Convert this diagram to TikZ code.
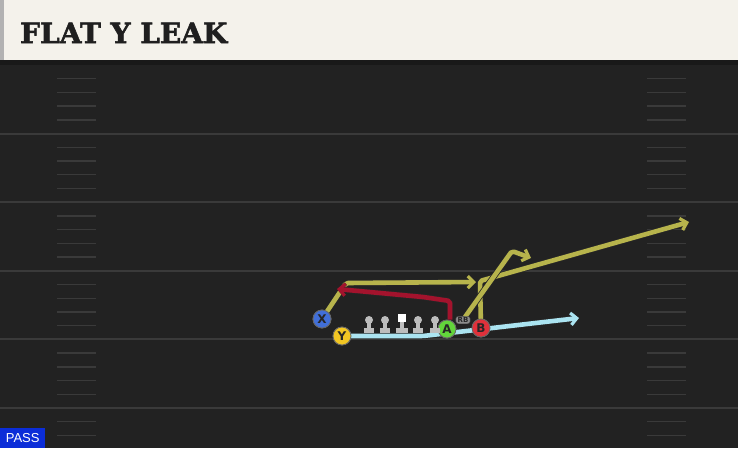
\documentclass[tikz,border=0pt]{standalone}
\usepackage{fontspec}
\setmainfont{DejaVu Sans}
\newfontfamily\titlefont[BoldFeatures={FakeBold=2}]{DejaVu Serif}
\newfontfamily\passfont{Liberation Sans}
\usetikzlibrary{arrows.meta}

\definecolor{field}{HTML}{222222}
\definecolor{header}{HTML}{F4F2EB}
\definecolor{yardline}{HTML}{3A3A3A}
\definecolor{olive}{HTML}{B7B44C}
\definecolor{crimson}{HTML}{A3132D}
\definecolor{skyblue}{HTML}{ABE4F1}
\definecolor{xblue}{HTML}{416FD8}
\definecolor{yyellow}{HTML}{F2C623}
\definecolor{agreen}{HTML}{62D53B}
\definecolor{bred}{HTML}{E0313B}
\definecolor{lineman}{HTML}{BDBDBD}
\definecolor{passblue}{HTML}{0B2DD8}

\tikzset{
  route/.style={line width=4.6pt, line join=round, rounded corners=2pt,
    preaction={draw=black!85, line width=6.2pt}},
  tip/.style={-{Straight Barb[length=6pt, width=12pt, line width=3.2pt]}},
  player/.style={circle, draw=black!60, line width=0.8pt, minimum size=18pt,
    inner sep=0pt, font=\bfseries\fontsize{12}{12}\selectfont, text=black!85},
}

\begin{document}
\begin{tikzpicture}[x=1pt, y=-1pt]
        % Canvas
        \useasboundingbox (0,0) rectangle (738,448);
        \clip (0,0) rectangle (738,448);
        \fill[field] (0,0) rectangle (738,448);

        % Draw yard lines and hash marks
        \foreach \b in {1,...,5}
          \draw[yardline, line width=2pt] (0,65+68.6*\b) -- (738,65+68.6*\b);
        \foreach \b in {0,...,5}
          \foreach \j in {1,...,4} {
            \pgfmathsetmacro{\hy}{65+13.72*5*\b+13.72*\j}
            \ifdim\hy pt<445pt
              \draw[yardline, line width=1.4pt] (57,\hy) -- (96,\hy);
              \draw[yardline, line width=1.4pt] (647,\hy) -- (686,\hy);
            \fi
          }

        % Draw header band
        \fill[black!90] (0,60) rectangle (738,65);
        \fill[header] (0,0) rectangle (738,60);
        \fill[black!30] (0,0) rectangle (4,60);
        \node[anchor=base west, font=\titlefont\bfseries\fontsize{28}{28}\selectfont, text=black!88, inner sep=0pt]
          (title) at (20,43) {FLAT Y LEAK};

        % Place players
        \node[player, fill=xblue] (X) at (322,319) {X};
        \node[player, fill=yyellow] (Y) at (342,336) {Y};
        \node[player, fill=agreen] (A) at (447,329) {A};
        \node[player, fill=bred] (B) at (481,328) {B};

        % Route turning points
        \coordinate (xcut) at (346,283);
        \coordinate (xend) at (476,282);
        \coordinate (aup) at (450,301);
        \coordinate (abend) at (423,297);
        \coordinate (aend) at (337,289);
        \coordinate (rbstart) at (465,317);
        \coordinate (rbcut) at (512,251);
        \coordinate (rbend) at (531,258);
        \coordinate (bup) at (480,281);
        \coordinate (bend) at (689,222);
        \coordinate (yflat) at (423,336);
        \coordinate (yend) at (579,318);

        % Draw routes
        \draw[route, skyblue, tip] (Y.center) -- (yflat) -- (yend);
        \draw[route, olive, tip] (X.center) -- (xcut) -- (xend);
        \draw[route, crimson, tip] (A.north) ++(3,0) -- (aup) -- (abend) -- (aend);
        \draw[route, olive, tip] (B.center) -- (bup) -- (bend);
        \draw[route, olive, tip] (rbstart) -- (rbcut) -- (rbend);

        % Redraw players on top
        \node[player, fill=xblue] at (X) {X};
        \node[player, fill=yyellow] at (Y) {Y};
        \node[player, fill=agreen] at (A) {A};
        \node[player, fill=bred] at (B) {B};

        % RB tag
        \node[fill=black!45, draw=black!75, rounded corners=2.5pt, inner xsep=1.8pt, inner ysep=1.2pt,
          font=\bfseries\fontsize{7}{7}\selectfont, text=black!85] (RB) at (463,320) {RB};

        % Draw offensive line
        \foreach \x/\nm in {369/lt, 385/lg, 418/rg, 435/rt} {
          \fill[lineman] (\x-5,333) rectangle (\x+5,328);
          \fill[lineman] (\x-2,328) rectangle (\x+2,321);
          \node[circle, fill=lineman, minimum size=8pt, inner sep=0pt] (\nm) at (\x,320) {};
        }
        \fill[lineman] (396,333) rectangle (408,328);
        \fill[lineman] (400,328) rectangle (404,321);
        \node[fill=white, minimum size=8pt, inner sep=0pt] (C) at (402,318) {};

        % Play type tag
        \node[fill=passblue, anchor=south west, minimum width=45pt, minimum height=20pt, inner sep=0pt,
          font=\passfont\fontsize{13}{13}\selectfont, text=white] (pass) at (0,448) {PASS};
    \end{tikzpicture}
\end{document}
